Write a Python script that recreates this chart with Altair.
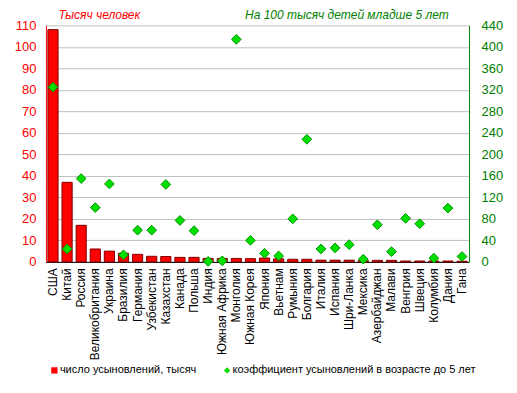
import altair as alt
import pandas as pd

countries = ["США", "Китай", "Россия", "Великобритания", "Украина", "Бразилия", "Германия",
             "Узбекистан", "Казахстан", "Канада", "Польша", "Индия", "Южная Африка", "Монголия",
             "Южная Корея", "Япония", "Вьетнам", "Румыния", "Болгария", "Италия", "Испания",
             "Шри-Ланка", "Мексика", "Азербайджан", "Малави", "Венгрия", "Швеция", "Колумбия",
             "Дания", "Гана"]
adoptions = [108, 37, 17, 6, 5, 4, 3.5, 2.6, 2.5, 2.1, 2.1, 1.6, 1.6, 1.6, 1.5, 1.8, 1.4, 1.2,
             1.2, 0.8, 0.8, 0.8, 0.6, 0.7, 0.7, 0.4, 0.4, 0.4, 0.4, 0.3]
rate = [325, 24, 155, 101, 145, 13, 59, 59, 144, 77, 58, 1, 2, 414, 40, 16, 11, 80, 228, 24,
        26, 32, 5, 69, 19, 81, 71, 7, 100, 10]

S1 = "число усыновлений, тысяч"
S2 = "коэффициент усыновлений в возрасте до 5 лет"

df = pd.DataFrame({"country": countries, "adoptions": adoptions, "rate": rate})

FONT = "Liberation Sans"

x_enc = alt.X("country:N", sort=countries, title=None,
              scale=alt.Scale(paddingInner=0.28, paddingOuter=0.14),
              axis=alt.Axis(labelAngle=-90, labelFontSize=12, labelColor="black", ticks=False,
                            domainColor="black", labelPadding=6, labelFont=FONT, labelLimit=200,
                            labelAlign="right", labelBaseline="middle"))

color_scale = alt.Scale(domain=[S1, S2], range=["#FF0000", "#00E000"])
shape_scale = alt.Scale(domain=[S1, S2], range=["square", "diamond"])

legend = alt.Legend(title=None, orient="none", legendX=3, legendY=340, direction="horizontal",
                    labelFontSize=11, labelFont=FONT, symbolSize=40, columnPadding=25,
                    labelLimit=400, symbolStrokeWidth=0, labelOffset=0, labelColor="black")

bars = alt.Chart(df).transform_calculate(series=f"'{S1}'").mark_bar(
    stroke="#800000", strokeWidth=1).encode(
    x=x_enc,
    y=alt.Y("adoptions:Q", scale=alt.Scale(domain=[0, 110], nice=False),
            axis=alt.Axis(values=list(range(0, 111, 10)), labelColor="#FF0000", labelFontSize=13,
                          labelFont=FONT, domainColor="#FF0000", ticks=False, labelPadding=10,
                          gridColor="#C0C0C0", title="Тысяч человек", titleAngle=0,
                          titleAlign="left", titleBaseline="middle", titleX=12, titleY=-11,
                          titleFont=FONT, titleFontSize=12, titleFontStyle="italic",
                          titleFontWeight="normal", titleColor="#FF0000")),
    color=alt.Color("series:N", scale=color_scale, legend=legend),
)

points = alt.Chart(df).transform_calculate(series=f"'{S2}'").mark_point(
    filled=True, size=95, stroke="#009000", strokeWidth=1, opacity=1).encode(
    x=x_enc,
    y=alt.Y("rate:Q", scale=alt.Scale(domain=[0, 440], nice=False),
            axis=alt.Axis(orient="right", values=list(range(0, 441, 40)), labelColor="#008000",
                          labelFontSize=13, labelFont=FONT, domainColor="#008000", ticks=False,
                          grid=False, labelPadding=12, title="На 100 тысяч детей младше 5 лет",
                          titleAngle=0, titleAlign="left", titleBaseline="middle", titleX=-225,
                          titleY=-11, titleFont=FONT, titleFontSize=12, titleFontStyle="italic",
                          titleFontWeight="normal", titleColor="#008000")),
    color=alt.Color("series:N", scale=color_scale, legend=legend),
    shape=alt.Shape("series:N", scale=shape_scale, legend=legend),
)

chart = alt.layer(bars, points).resolve_scale(y="independent").properties(
    width=424, height=237,
    autosize=alt.AutoSizeParams(type="none"),
    padding={"left": 38, "top": 17, "right": 40, "bottom": 130},
    background="white",
).configure_view(strokeWidth=0)

chart.save("out.html", embed_options={"renderer": "svg", "actions": False})
